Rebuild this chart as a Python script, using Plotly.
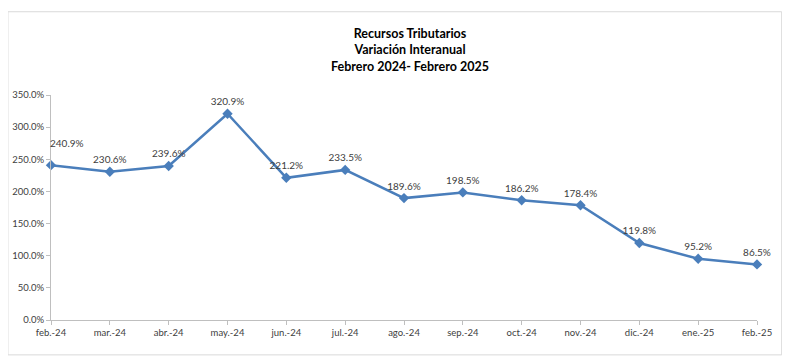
import plotly.graph_objects as go

months = ["feb.-24", "mar.-24", "abr.-24", "may.-24", "jun.-24", "jul.-24", "ago.-24",
          "sep.-24", "oct.-24", "nov.-24", "dic.-24", "ene.-25", "feb.-25"]
values = [240.9, 230.6, 239.6, 320.9, 221.2, 233.5, 189.6, 198.5, 186.2, 178.4, 119.8, 95.2, 86.5]
y_ticks = [0, 50, 100, 150, 200, 250, 300, 350]

labels = [f"{v:.1f}%" for v in values]
trace_labels = [""] + labels[1:]

FONT = "Lato, Open Sans, sans-serif"

fig = go.Figure()
fig.add_trace(go.Scatter(
    x=list(range(len(months))), y=values,
    mode="lines+markers+text",
    text=trace_labels, textposition="top center",
    textfont=dict(family=FONT, size=10, color="#404040"),
    line=dict(color="#4A7EBB", width=2.5),
    marker=dict(symbol="diamond", size=8, color="#4A7EBB"),
    cliponaxis=False,
    hoverinfo="skip",
))

fig.update_layout(
    width=782, height=353,
    margin=dict(l=43, r=33, t=87, b=41),
    paper_bgcolor="white", plot_bgcolor="white",
    showlegend=False,
    font=dict(family=FONT, size=9, color="#404040"),
    xaxis=dict(
        automargin=False,
        range=[0, len(months) - 1],
        tickmode="array", tickvals=list(range(len(months))), ticktext=months,
        showgrid=False, zeroline=False,
        showline=True, linecolor="#BFBFBF", linewidth=1,
        ticks="outside", ticklen=4, tickcolor="#BFBFBF",
        tickfont=dict(size=9.5, color="#404040"),
    ),
    yaxis=dict(
        automargin=False,
        range=[0, 350],
        tickmode="array", tickvals=y_ticks, ticktext=[f"{t:.1f}%" for t in y_ticks],
        showgrid=False, zeroline=False,
        showline=True, linecolor="#BFBFBF", linewidth=1,
        ticks="outside", ticklen=4, tickcolor="#BFBFBF",
        tickfont=dict(size=9.5, color="#404040"),
    ),
    annotations=[
        dict(
            text="<b>Recursos Tributarios<br>Variación Interanual<br>Febrero 2024- Febrero 2025</b>",
            xref="paper", yref="paper", x=0.508, y=1.20, xanchor="center", yanchor="middle",
            showarrow=False, font=dict(family=FONT, size=12.5, color="#000000"),
        ),
        dict(
            text=labels[0], x=0, y=values[0], xref="x", yref="y",
            showarrow=True, arrowcolor="rgba(0,0,0,0)", ax=16, ay=-22,
            font=dict(family=FONT, size=10, color="#404040"),
        ),
    ],
    shapes=[dict(
        type="rect", xref="paper", yref="paper",
        x0=-0.061, x1=1.035, y0=-0.155, y1=1.37,
        line=dict(color="#D9D9D9", width=1), fillcolor="rgba(0,0,0,0)", layer="below",
    )],
)

fig.write_html("out.html")
